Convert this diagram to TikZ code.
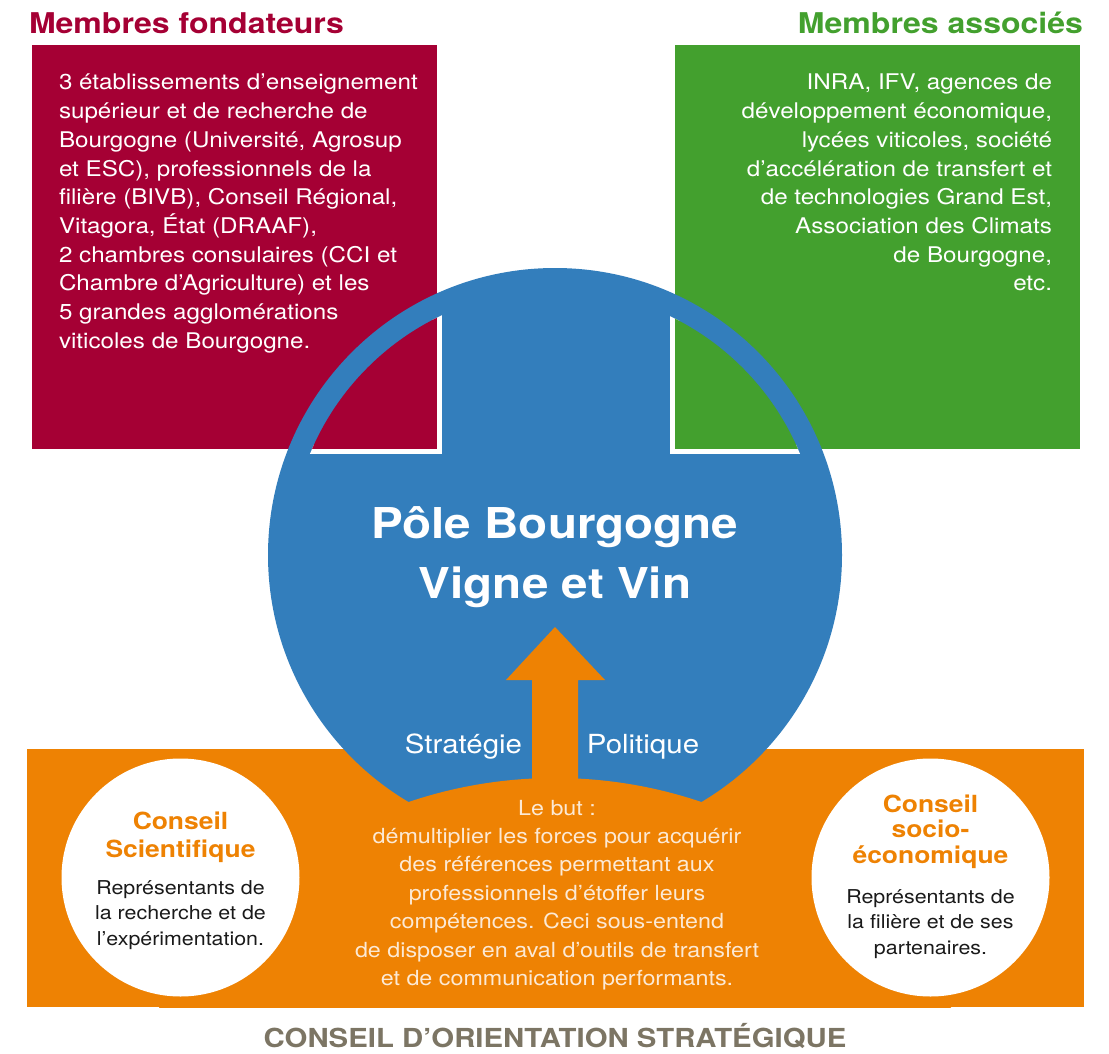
\documentclass[tikz,border=0pt]{standalone}
\usepackage{fontspec}
\setmainfont[FakeStretch=1.12]{TeX Gyre Heros}
\definecolor{fondred}{HTML}{A50034}
\definecolor{assocgreen}{HTML}{43A02E}
\definecolor{poleblue}{HTML}{337EBC}
\definecolor{cosorange}{HTML}{EE8203}
\definecolor{cosgray}{HTML}{7C7564}
\definecolor{softwhite}{HTML}{FCE9D4}
\definecolor{darktext}{HTML}{1A1A1A}
\newcommand\fsz[2]{\fontsize{#1}{#2}\selectfont}
\begin{document}
\begin{tikzpicture}[x=1pt,y=-1pt,
  lbl/.style={inner sep=0pt, outer sep=0pt},
  whitedisc/.style={circle, fill=white, minimum size=238pt, inner sep=0pt}]
\useasboundingbox (0,0) rectangle (1109,1054);
% boxes
\fill[fondred] (32,45) rectangle (437,449);
\fill[assocgreen] (675,45) rectangle (1080,449);
\fill[cosorange] (27,749) rectangle (1084,1007);
% central disc
\fill[poleblue] (555,555) circle[radius=287];
\begin{scope}
  \clip (555,555) circle[radius=265];
  \draw[white, line width=10pt] (32,45) rectangle (437,449);
  \draw[white, line width=10pt] (675,45) rectangle (1080,449);
  \fill[fondred] (32,45) rectangle (437,449);
  \fill[assocgreen] (675,45) rectangle (1080,449);
\end{scope}
% orange bump
\begin{scope}
  \clip (27,749) rectangle (1084,1007);
  \fill[cosorange] (555,1234) circle[radius=456];
\end{scope}
% arrow
\fill[cosorange] (532,790) -- (532,680) -- (506,680) -- (555,627) -- (605,680) -- (578,680) -- (578,790) -- cycle;
% white discs
\node[whitedisc] (sci) at (180.5,877.5) {};
\node[whitedisc] (soc) at (930.5,877.5) {};
% titles
\node[lbl, anchor=base west, text=fondred, font=\fsz{28.6}{34}\bfseries] (fondtitle) at (29,34) {Membres fondateurs};
\node[lbl, anchor=base east, text=assocgreen, font=\fsz{28.6}{34}\bfseries] (assoctitle) at (1083,34) {Membres associés};
% box texts
\node[lbl, anchor=base west, text=white] (fondtext) at (59,90) {\parbox[t]{375pt}{\fsz{21.6}{28.7}\raggedright
3 établissements d’enseignement\\
supérieur et de recherche de\\
Bourgogne (Université, Agrosup\\
et ESC), professionnels de la\\
filière (BIVB), Conseil Régional,\\
Vitagora, État (DRAAF),\\
2 chambres consulaires (CCI et\\
Chambre d’Agriculture) et les\\
5 grandes agglomérations\\
viticoles de Bourgogne.}};
\node[lbl, anchor=base east, text=white] (assoctext) at (1052,90) {\parbox[t]{375pt}{\fsz{21.6}{28.7}\raggedleft
INRA, IFV, agences de\\
développement économique,\\
lycées viticoles, société\\
d’accélération de transfert et\\
de technologies Grand Est,\\
Association des Climats\\
de Bourgogne,\\
etc.}};
% pole title
\node[lbl, anchor=base, text=white] (pole) at (555,538) {\parbox[t]{500pt}{\fsz{42.5}{60}\bfseries\centering
Pôle Bourgogne\\Vigne et Vin}};
\node[lbl, anchor=base, text=white, font=\fsz{26.3}{30}] (strat) at (463.5,753) {Stratégie};
\node[lbl, anchor=base, text=white, font=\fsz{26.3}{30}] (polit) at (643,753) {Politique};
% goal text
\node[lbl, anchor=base, text=softwhite] (but) at (557,815) {\parbox[t]{520pt}{\fsz{20.8}{28.4}\centering
Le but :\\
démultiplier les forces pour acquérir\\
des références permettant aux\\
professionnels d’étoffer leurs\\
compétences. Ceci sous-entend\\
de disposer en aval d’outils de transfert\\
et de communication performants.}};
% council discs texts
\node[lbl, anchor=base, text=cosorange] (scititle) at (180.5,829) {\parbox[t]{220pt}{\fsz{23.6}{28}\bfseries\centering
Conseil\\Scientifique}};
\node[lbl, anchor=base, text=darktext] (scitext) at (180.5,894) {\parbox[t]{220pt}{\fsz{19.1}{25.5}\centering
Représentants de\\la recherche et de\\l’expérimentation.}};
\node[lbl, anchor=base, text=cosorange] (soctitle) at (930.5,812) {\parbox[t]{220pt}{\fsz{23.6}{25.5}\bfseries\centering
Conseil\\socio-\\économique}};
\node[lbl, anchor=base, text=darktext] (soctext) at (930.5,903) {\parbox[t]{220pt}{\fsz{19.1}{25.5}\centering
Représentants de\\la filière et de ses\\partenaires.}};
% bottom title
\node[lbl, anchor=base, text=cosgray, font=\fsz{26.2}{30}\bfseries] (cos) at (555,1047) {CONSEIL D’ORIENTATION STRATÉGIQUE};
\end{tikzpicture}
\end{document}
